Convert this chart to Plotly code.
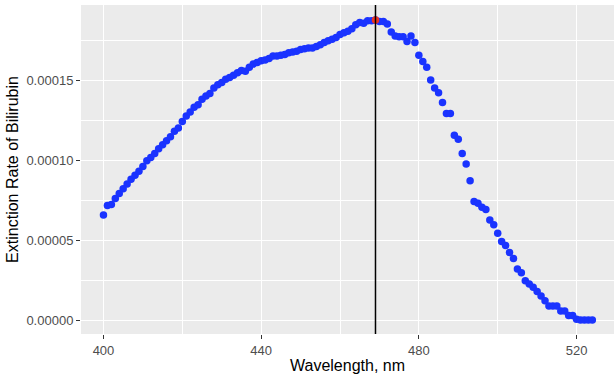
import plotly.graph_objects as go

# Wavelength (nm) and extinction rate (in units of 1e-5)
wavelength = list(range(400, 525))
extinction_e5 = [
    6.56, 7.15, 7.22, 7.6, 7.9, 8.2, 8.5, 8.8, 9.05, 9.3,
    9.6, 9.95, 10.15, 10.4, 10.7, 10.95, 11.2, 11.45, 11.8, 12.0,
    12.4, 12.75, 13.0, 13.3, 13.45, 13.8, 14.0, 14.15, 14.5, 14.7,
    14.85, 15.05, 15.15, 15.3, 15.45, 15.6, 15.55, 15.8, 16.0, 16.1,
    16.2, 16.25, 16.35, 16.5, 16.5, 16.55, 16.6, 16.7, 16.75, 16.8,
    16.9, 16.95, 17.0, 17.0, 17.1, 17.2, 17.35, 17.45, 17.55, 17.65,
    17.85, 17.95, 18.05, 18.2, 18.45, 18.6, 18.55, 18.7, 18.7, 18.75,
    18.65, 18.65, 18.5, 18.0, 17.75, 17.7, 17.7, 17.4, 17.75, 17.35,
    16.55, 16.15, 15.8, 15.0, 14.5, 14.2, 13.6, 12.9, 12.9, 11.55,
    11.3, 10.4, 9.75, 8.7, 7.4, 7.3, 7.05, 6.9, 6.25, 5.95,
    5.42, 4.9, 4.65, 4.22, 3.85, 3.18, 2.95, 2.45, 2.25, 2.05,
    1.78, 1.5, 1.2, 0.88, 0.88, 0.88, 0.56, 0.56, 0.28, 0.28,
    0.04, 0.0, 0.0, 0.0, 0.0,
]
extinction = [v * 1e-5 for v in extinction_e5]

x_ticks = [400, 440, 480, 520]
y_ticks = [0.0, 0.00005, 0.00010, 0.00015]

peak_i = max(range(len(extinction)), key=lambda i: extinction[i])
peak_x = wavelength[peak_i]
peak_y = extinction[peak_i]

fig = go.Figure()
fig.add_trace(go.Scatter(
    x=wavelength, y=extinction, mode="markers",
    marker=dict(color="#1a33ff", size=7.5, line=dict(width=0)),
    showlegend=False,
))
fig.add_trace(go.Scatter(
    x=[peak_x], y=[peak_y], mode="markers",
    marker=dict(color="#ee3322", size=7.5, line=dict(width=0)),
    showlegend=False,
))
fig.add_vline(x=peak_x, line=dict(color="black", width=1.5))

font_family = "Liberation Sans, Arial, sans-serif"
fig.update_layout(
    width=614, height=377,
    margin=dict(l=81, r=0, t=5, b=43),
    paper_bgcolor="white",
    plot_bgcolor="#EBEBEB",
    font=dict(family=font_family, color="#4D4D4D", size=13),
)
fig.update_xaxes(
    range=[394.3, 529.5],
    tickvals=x_ticks,
    ticktext=[str(v) for v in x_ticks],
    ticks="outside", ticklen=4, tickcolor="#333333", tickwidth=1,
    showgrid=True, gridcolor="white", gridwidth=1.2,
    minor=dict(showgrid=True, gridcolor="white", gridwidth=0.6, dtick=20, tick0=400, ticks=""),
    zeroline=False, showline=False,
    tickfont=dict(size=13, color="#4D4D4D"),
    title=dict(text="Wavelength, nm", font=dict(size=16, color="black"), standoff=3),
    automargin=False,
)
fig.update_yaxes(
    range=[-0.00000875, 0.00019688],
    tickvals=y_ticks,
    ticktext=[f"{v:.5f}" for v in y_ticks],
    ticks="outside", ticklen=4, tickcolor="#333333", tickwidth=1,
    showgrid=True, gridcolor="white", gridwidth=1.2,
    minor=dict(showgrid=True, gridcolor="white", gridwidth=0.6, dtick=0.000025, tick0=0, ticks=""),
    zeroline=False, showline=False,
    tickfont=dict(size=13, color="#4D4D4D"),
    title=dict(text="Extinction Rate of Bilirubin", font=dict(size=16, color="black"), standoff=3),
    automargin=False,
)

fig.write_html("out.html")
